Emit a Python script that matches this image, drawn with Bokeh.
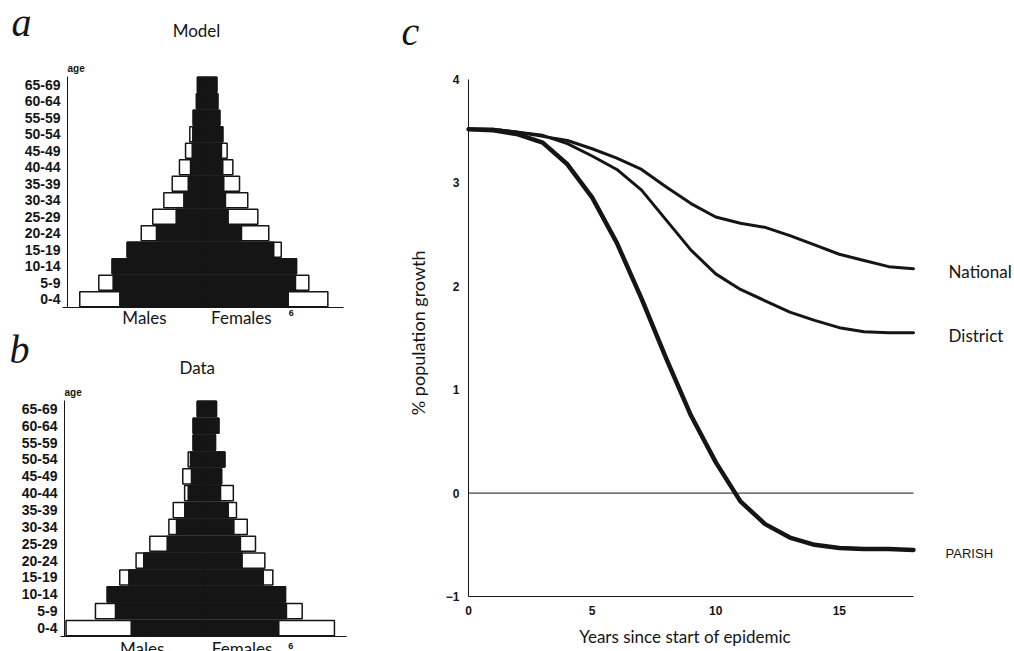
from math import pi
from bokeh.plotting import figure
from bokeh.models import Range1d, Label, FixedTicker
from bokeh.layouts import row, column
from bokeh.embed import file_html
from bokeh.resources import INLINE

# ---------------- data ----------------
AGES = ["0-4", "5-9", "10-14", "15-19", "20-24", "25-29", "30-34",
        "35-39", "40-44", "45-49", "50-54", "55-59", "60-64", "65-69"]

# panel a (Model): % of population, outer (white) and inner (black) bars
model_male_total = [8.89, 7.55, 6.61, 5.55, 4.56, 3.75, 2.97, 2.38, 1.87, 1.44, 1.14, 0.90, 0.67, 0.60]
model_female_total = [8.58, 7.24, 6.37, 5.30, 4.42, 3.65, 2.94, 2.36, 1.89, 1.49, 1.18, 0.97, 0.83, 0.76]
model_male_inner = [6.07, 6.54, 6.61, 5.55, 3.49, 2.10, 1.56, 1.25, 1.09, 0.97, 0.93, 0.90, 0.67, 0.60]
model_female_inner = [5.79, 6.30, 6.37, 4.77, 2.50, 1.56, 1.37, 1.25, 1.18, 1.09, 1.18, 0.97, 0.83, 0.76]

# panel b (Data)
data_male_total = [9.82, 7.75, 6.92, 6.04, 4.89, 3.92, 2.58, 2.27, 1.47, 1.60, 1.22, 0.87, 0.87, 0.58]
data_female_total = [9.08, 6.81, 5.63, 4.74, 4.18, 3.52, 2.94, 2.18, 1.96, 1.13, 1.36, 0.70, 0.94, 0.77]
data_male_inner = [5.23, 6.34, 6.92, 5.40, 4.35, 2.70, 2.04, 1.46, 1.22, 0.99, 1.06, 0.87, 0.87, 0.58]
data_female_inner = [5.16, 5.70, 5.63, 4.07, 2.58, 2.46, 2.00, 1.60, 1.06, 1.13, 1.36, 0.70, 0.94, 0.77]

# panel c: % population growth by years since start of epidemic
years = list(range(19))
national = [3.52, 3.52, 3.49, 3.45, 3.41, 3.33, 3.24, 3.13, 2.96, 2.80, 2.67, 2.61, 2.57,
            2.49, 2.40, 2.31, 2.25, 2.19, 2.17]
district = [3.52, 3.52, 3.49, 3.46, 3.38, 3.26, 3.13, 2.93, 2.64, 2.35, 2.12, 1.97, 1.86,
            1.75, 1.67, 1.60, 1.56, 1.55, 1.55]
parish = [3.52, 3.51, 3.47, 3.39, 3.18, 2.86, 2.42, 1.88, 1.30, 0.75, 0.30, -0.08, -0.30,
          -0.43, -0.50, -0.53, -0.54, -0.54, -0.55]

INK = "#151515"
HUM = "Lato"
ARIAL = "Liberation Sans"
SERIF = "Liberation Serif"


def style_axis(ax, size, standoff, bold=True):
    ax.axis_line_color = INK
    ax.axis_line_width = 1
    ax.major_tick_line_color = None
    ax.minor_tick_line_color = None
    ax.major_tick_out = 0
    ax.major_tick_in = 0
    ax.minor_tick_out = 0
    ax.minor_tick_in = 0
    ax.major_label_standoff = standoff
    ax.major_label_text_font = ARIAL
    ax.major_label_text_font_style = "bold" if bold else "normal"
    ax.major_label_text_font_size = size
    ax.major_label_text_color = INK


def pyramid(letter, title, mt, ft, mi, fi, width, height, xr, yr, axis_x, xbounds, lab):
    p = figure(width=width, height=height, output_backend="svg", toolbar_location=None,
               x_range=Range1d(*xr), y_range=Range1d(*yr), min_border=0)
    p.outline_line_color = None
    p.grid.visible = False

    ypos = [i + 0.5 for i in range(len(AGES))]
    kw = dict(height=0.9, line_color=INK, line_width=1.5)
    p.hbar(y=ypos, left=[-v for v in mt], right=0, fill_color="white", **kw)
    p.hbar(y=ypos, left=0, right=ft, fill_color="white", **kw)
    p.hbar(y=ypos, left=[-v for v in mi], right=0, fill_color=INK, **kw)
    p.hbar(y=ypos, left=0, right=fi, fill_color=INK, **kw)

    ya = p.yaxis[0]
    ya.fixed_location = axis_x
    ya.bounds = (0, len(AGES))
    ya.ticker = FixedTicker(ticks=ypos)
    ya.major_label_overrides = {y: a for y, a in zip(ypos, AGES)}
    style_axis(ya, "14px", 7)

    xa = p.xaxis[0]
    xa.fixed_location = 0
    xa.bounds = xbounds
    xa.ticker = FixedTicker(ticks=[6])
    style_axis(xa, "9px", lab["six_standoff"])

    n = len(AGES)
    p.add_layout(Label(x=lab["letter_x"], y=lab["letter_y"], text=letter,
                       text_font=SERIF, text_font_style="italic", text_font_size="40px",
                       text_align="center", text_baseline="alphabetic", text_color=INK))
    p.add_layout(Label(x=lab["title_x"], y=lab["title_y"], text=title,
                       text_font=HUM, text_font_size="17px",
                       text_align="center", text_baseline="middle", text_color=INK))
    p.add_layout(Label(x=axis_x, y=n + 0.48, text="age",
                       text_font=ARIAL, text_font_style="bold", text_font_size="10px",
                       text_align="left", text_baseline="middle", text_color=INK))
    p.add_layout(Label(x=lab["males_x"], y=lab["sex_y"], text="Males",
                       text_font=HUM, text_font_size="17px",
                       text_align="center", text_baseline="middle", text_color=INK))
    p.add_layout(Label(x=lab["females_x"], y=lab["sex_y"], text="Females",
                       text_font=HUM, text_font_size="17px",
                       text_align="center", text_baseline="middle", text_color=INK))
    return p


pa = pyramid("a", "Model", model_male_total, model_female_total, model_male_inner, model_female_inner,
             398, 328, (-14.472, 13.556), (-1.2727, 18.606), -9.754, (-10.1, 9.68),
             dict(letter_x=-12.99, letter_y=17.30, title_x=-0.67, title_y=16.79,
                  males_x=-4.33, females_x=2.49, sex_y=-0.62, six_standoff=2))
pb = pyramid("b", "Data", data_male_total, data_female_total, data_male_inner, data_female_inner,
             398, 323, (-14.437, 13.592), (-0.8897, 18.268), -9.93, (-10.2, 9.93),
             dict(letter_x=-13.1, letter_y=17.02, title_x=-0.58, title_y=15.95,
                  males_x=-4.46, females_x=2.58, sex_y=-0.71, six_standoff=7))

# ---------------- panel c ----------------
pc = figure(width=616, height=651, output_backend="svg", toolbar_location=None,
            x_range=Range1d(-2.832, 22.087), y_range=Range1d(-1.5319, 4.764), min_border=0)
pc.outline_line_color = None
pc.grid.visible = False

xa = pc.xaxis[0]
xa.fixed_location = -1
xa.bounds = (years[0], years[-1])
xa.ticker = FixedTicker(ticks=[0, 5, 10, 15])
style_axis(xa, "12px", 9)

ya = pc.yaxis[0]
ya.fixed_location = 0
ya.bounds = (-1, 4)
ya.ticker = FixedTicker(ticks=[-1, 0, 1, 2, 3, 4])
style_axis(ya, "12px", 9)

# zero-growth reference line
pc.line([years[0], years[-1]], [0, 0], line_width=1, line_color=INK)

pc.line(years, national, line_width=3, line_color=INK, line_join="round", line_cap="round")
pc.line(years, district, line_width=3, line_color=INK, line_join="round", line_cap="round")
pc.line(years, parish, line_width=4.5, line_color=INK, line_join="round", line_cap="round")

for txt, series, font, size, dx in (("National", national, HUM, "17px", 1.42),
                                    ("District", district, HUM, "17px", 1.42),
                                    ("PARISH", parish, ARIAL, "13px", 1.30)):
    pc.add_layout(Label(x=years[-1] + dx, y=series[-1] - 0.03, text=txt,
                        text_font=font, text_font_size=size,
                        text_align="left", text_baseline="middle", text_color=INK))

pc.add_layout(Label(x=-2.35, y=4.46, text="c", text_font=SERIF, text_font_style="italic",
                    text_font_size="40px", text_align="center", text_baseline="alphabetic",
                    text_color=INK))
pc.add_layout(Label(x=-2.06, y=1.55, text="% population growth", angle=pi / 2,
                    text_font=HUM, text_font_size="18px", text_align="center",
                    text_baseline="middle", text_color=INK))
pc.add_layout(Label(x=8.76, y=-1.387, text="Years since start of epidemic",
                    text_font=HUM, text_font_size="17px", text_align="center",
                    text_baseline="middle", text_color=INK))

layout = row(column(pa, pb), pc)
open("out.html", "w").write(file_html(layout, INLINE))
